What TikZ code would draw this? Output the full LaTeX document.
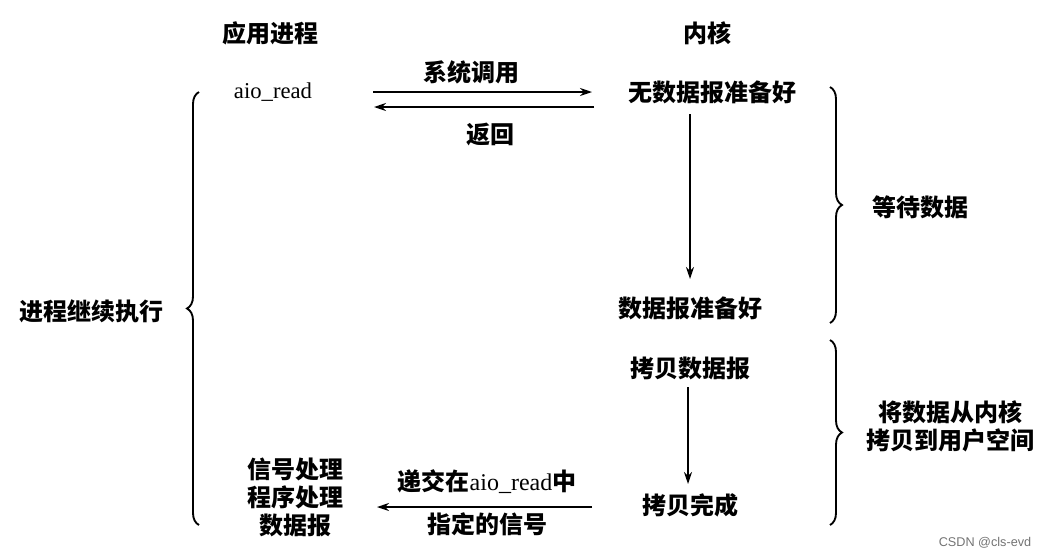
\documentclass[tikz,border=0pt]{standalone}
\usepackage{fontspec}
\setmainfont{Liberation Serif}
\newfontfamily\cjk{Noto Sans CJK SC}
\newfontfamily\wmfont{Liberation Sans}
\usetikzlibrary{arrows.meta,decorations.pathreplacing}
\tikzset{
  lbl/.style={inner sep=1pt, font=\fontsize{18}{22}\selectfont\cjk\bfseries},
  lat/.style={inner sep=1pt, font=\fontsize{17}{20}\selectfont},
  arr/.style={line width=1.4pt, -{Stealth[length=9pt,width=6pt]}},
  br/.style={line width=1.4pt, decorate, decoration={brace, amplitude=9pt}},
}
\begin{document}
\begin{tikzpicture}[x=0.75pt,y=-0.75pt]
\useasboundingbox (0,0) rectangle (1045,558);
% headers
\node[lbl] (app) at (270,33) {应用进程};
\node[lbl] (kern) at (707,33) {内核};
% first row
\node[lat] (aio) at (273,92) {aio\_read};
\node[lbl] (nodata) at (712,92) {无数据报准备好};
\node[lbl] (sys) at (471,72) {系统调用};
\node[lbl] (ret) at (490,135) {返回};
\coordinate (a1s) at (373,92);
\coordinate (a1e) at (592,92);
\coordinate (a2s) at (594,107);
\coordinate (a2e) at (374,107);
\draw[arr] (a1s) -- (a1e);
\draw[arr] (a2s) -- (a2e);
% wait for data
\node[lbl] (ready) at (690,308) {数据报准备好};
\coordinate (v1s) at (690,114);
\coordinate (v1e) at (690,279);
\draw[arr] (v1s) -- (v1e);
% copy
\node[lbl] (copy) at (690,368) {拷贝数据报};
\node[lbl] (done) at (690,505) {拷贝完成};
\coordinate (v2s) at (688,387);
\coordinate (v2e) at (688,484);
\draw[arr] (v2s) -- (v2e);
% signal
\node[lbl] (deliver) at (487,482) {递交在{\rmfamily\mdseries aio\_read}中};
\node[lbl] (signal) at (487,524) {指定的信号};
\coordinate (a3s) at (592,507);
\coordinate (a3e) at (377,507);
\draw[arr] (a3s) -- (a3e);
\node[lbl, align=center] (handler) at (295,497) {信号处理\\[-1pt]程序处理\\[-1pt]数据报};
% left brace
\node[lbl] (cont) at (91,311) {进程继续执行};
\draw[br] (199,525) -- (199,92);
% right braces
\draw[br] (830,87) -- (830,323);
\node[lbl] (wait) at (920,207) {等待数据};
\draw[br] (830,340) -- (830,525);
\node[lbl, align=center] (copyk) at (950,426) {将数据从内核\\[-1pt]拷贝到用户空间};
% watermark
\node[inner sep=0pt, text=black!55, font=\fontsize{9.5}{11}\selectfont\wmfont] (wm) at (985,543) {CSDN @cls-evd};
\end{tikzpicture}
\end{document}
